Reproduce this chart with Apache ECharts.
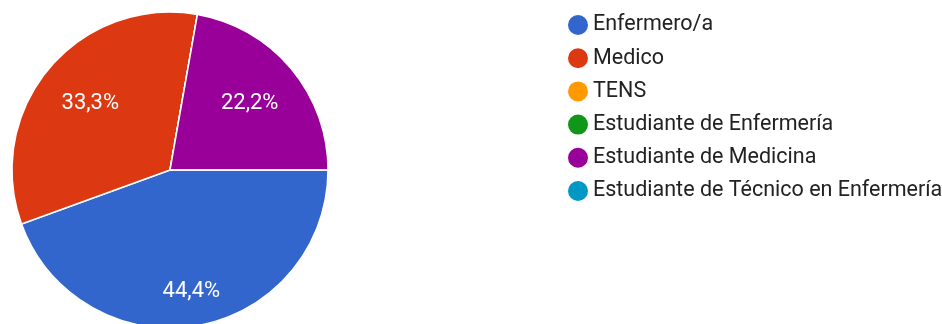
<!DOCTYPE html>
<html><head><meta charset="utf-8">
<script src="https://cdn.jsdelivr.net/npm/echarts@6/dist/echarts.min.js"></script>
<style>html,body{margin:0;padding:0;background:#fff}#c{width:942px;height:324px}</style>
</head><body><div id="c"></div>
<script>
const categories = ['Enfermero/a','Medico','TENS','Estudiante de Enfermería','Estudiante de Medicina','Estudiante de Técnico en Enfermería'];
const values = [4, 3, 0, 0, 2, 0];
const colors = ['#3366cc','#dc3912','#ff9900','#109618','#990099','#0099c6'];

const total = values.reduce((a,b)=>a+b,0);
const pct = v => (v/total*100).toFixed(1).replace('.', ',') + '%';
const data = categories.map((n,i)=>({name:n, value:values[i], itemStyle:{color:colors[i]}}));
const center = [170,170];

function labelSeries(outer, pick){
  return {
    type:'pie', center:center, radius:[0,outer], startAngle:0, clockwise:true,
    silent:true, legendHoverLink:false, tooltip:{show:false},
    itemStyle:{color:'rgba(0,0,0,0)', borderWidth:0},
    emphasis:{disabled:true},
    labelLine:{show:false},
    label:{show:true, position:'inside', color:'#fff', fontFamily:'Roboto', fontSize:22,
      formatter:p => (p.value>0 && pick(p.dataIndex)) ? pct(p.value) : ''},
    data: categories.map((n,i)=>({name:n, value:values[i]}))
  };
}

const chart = echarts.init(document.getElementById('c'));
chart.setOption({
  animation:false,
  legend:{
    orient:'vertical', left:561, top:8,
    icon:'circle', itemWidth:22, itemHeight:22, itemGap:9.2,
    textStyle:{fontFamily:'Roboto', fontSize:21.5, lineHeight:22, color:'#222', padding:[0,0,0,-1]},
    data:categories
  },
  series:[
    {
      type:'pie', center:center, radius:[0,158], startAngle:0, clockwise:true,
      label:{show:false}, labelLine:{show:false},
      itemStyle:{borderColor:'#fff', borderWidth:1.5},
      emphasis:{scale:false},
      data:data
    },
    labelSeries(240, i => i===0),
    labelSeries(202, i => i!==0)
  ]
});
</script></body></html>
